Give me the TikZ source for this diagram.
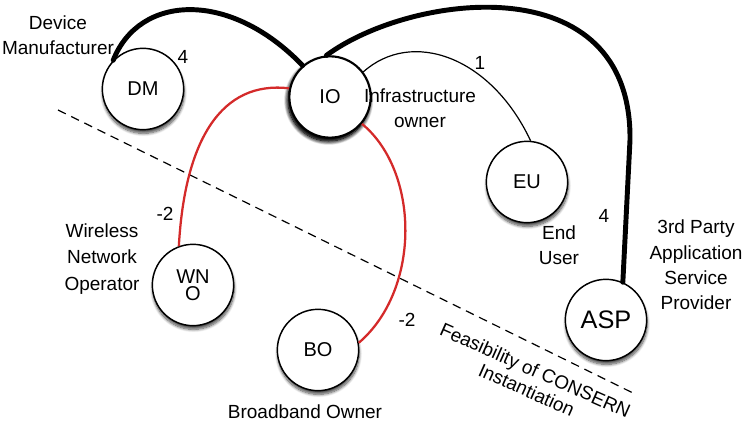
\documentclass[tikz,border=0pt]{standalone}
\usepackage{fontspec}
\setmainfont{Liberation Sans}
\usepackage{tikz}
\usetikzlibrary{shadows.blur, calc}

\definecolor{linkred}{RGB}{212,42,42}

\begin{document}
\begin{tikzpicture}[
  x=0.75pt, y=-0.75pt,
  actor/.style={circle, draw, line width=1.1pt, fill=white, minimum size=61pt, inner sep=0pt,
    align=center, font=\fontsize{15}{16}\selectfont,
    blur shadow={shadow xshift=0.4pt, shadow yshift=-2.8pt, shadow blur steps=8, shadow opacity=70}},
  lbl/.style={align=center, inner sep=1pt, font=\fontsize{14.25}{19}\selectfont},
  strong/.style={line width=3.7pt, line cap=round},
  thin/.style={line width=0.9pt},
  redlink/.style={linkred, line width=1.7pt},
  cut/.style={line width=0.9pt, dash pattern=on 6.5pt off 4.5pt},
]
\useasboundingbox (0,0) rectangle (754,428);

% Actors
\node[actor] (dm) at (143,89) {DM};
\node[actor, line width=1.6pt, blur shadow={shadow xshift=-1pt, shadow yshift=-2.5pt, shadow blur radius=3pt, shadow blur steps=8, shadow opacity=95}] (io) at (330,97) {IO};
\node[actor] (eu) at (527,182) {EU};
\node[actor] (wno) at (193,285) {WN\\[-3pt]O};
\node[actor] (bo) at (318,350) {BO};
\node[actor, font=\fontsize{19}{20}\selectfont] (asp) at (606,320) {ASP};

% Labels
\node[lbl] (dmtxt) at (58,35) {Device\\Manufacturer};
\node[lbl] (iotxt) at (420,108) {Infrastructure\\owner};
\node[lbl] (eutxt) at (559,245) {End\\User};
\node[lbl, font=\fontsize{14.25}{19}\selectfont] (asptxt) at (696,265) {3rd Party\\Application\\Service\\Provider};
\node[lbl, font=\fontsize{14.25}{20}\selectfont] (wnotxt) at (102,259) {Wireless\\Network\\Operator};
\node[lbl] (botxt) at (305,412) {Broadband Owner};
\node[lbl] (wdm) at (183,57) {4};
\node[lbl] (weu) at (480,63) {1};
\node[lbl] (wasp) at (604,216) {4};
\node[lbl] (wwno) at (165,214) {-2};
\node[lbl] (wbo) at (407,320) {-2};

% Feasibility line
\coordinate (cutA) at (58,110);
\coordinate (cutB) at (633,393);
\draw[cut] (cutA) -- (cutB);
\node[lbl, rotate=-24, font=\fontsize{14.25}{16}\selectfont] (feas) at (531,380) {Feasibility of CONSERN\\Instantiation};

% Links
\coordinate (aspbend) at (630,140);
\draw[strong] (dm.136) .. controls +(26,-66) and +(-73,-76) .. (io.131);
\draw[strong] (io.95) .. controls +(84,-62) and +(2,-176) .. (aspbend) -- (asp.66);
\draw[thin] (io.37) .. controls +(48,-43) and +(-40,-85) .. (eu.85);
\draw[redlink] (io.168) .. controls +(-68,-8) and +(6,-106) .. (wno.110);
\draw[redlink] (io.-40) .. controls +(58,48) and +(62,-53) .. (bo.10);

\end{tikzpicture}
\end{document}
